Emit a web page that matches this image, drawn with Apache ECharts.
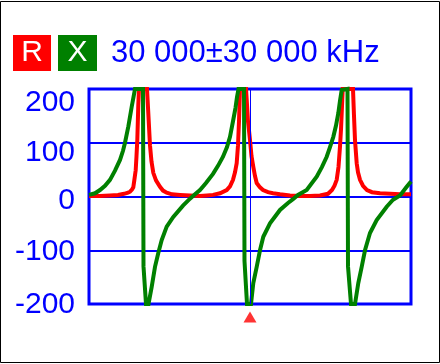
<!DOCTYPE html>
<html>
<head>
<meta charset="utf-8">
<script src="https://cdn.jsdelivr.net/npm/echarts@6/dist/echarts.min.js"></script>
<style>
html,body{margin:0;padding:0;background:#fff;}
#c{width:440px;height:364px;}
</style>
</head>
<body>
<div id="c"></div>
<script>
// ---- data (frequency in kHz) ----
var titleText = '30 000±30 000 kHz';
var seriesNames = ['R', 'X'];
var yTicks = [-200, -100, 0, 100, 200];
var markerFreq = [30000];

var rFreq = [0,2050,3913,5404,6522,7267,7640,8012,8255,8441,8702,8851,9000,9186,9317,10807,11050,11366,11646,11981,12484,13230,13789,14478,15466,16957,18820,20683,21988,23106,24410,25659,26273,26832,27205,27521,27764,27950,28137,29255,29385,29627,30000,30280,30615,30932,31248,31863,32422,33354,34286,35590,37454,39317,41180,43043,44534,45280,45745,46155,46491,46770,46957,47087,47273,49192,49378,49565,49882,50124,50497,51056,51801,52733,54223,56087,57950,60000];
var rVals = [1,1,2,3,5,7,9,13,17,30,49,75,105,170,200,200,155,95,65,44,30,18,11,7,4,3,2,1,2,3,6,12,19,31,45,62,95,140,200,200,180,140,105,75,55,38,25,17,12,8,6,4,2,1,1,2,5,12,20,31,55,93,125,155,200,200,150,105,62,45,31,20,12,8,6,5,4,4];

var xFreq = [0,1118,2050,2981,3913,4845,5776,6335,6708,7323,7957,8292,8571,10062,10155,10621,11087,11683,12298,12913,13546,14478,15708,17515,18820,19751,20683,21801,23106,24037,24969,25714,26273,26832,27298,27578,27857,28882,28975,29441,30186,30615,31248,31863,32478,33727,35590,37081,38012,38944,40565,42428,43416,44292,44907,45522,46025,46454,46770,47087,47236,48168,48261,48820,49565,50180,50813,51428,52360,53608,55472,56646,57950,59199,60000];
var xVals = [3,6,12,20,31,48,68,85,100,130,167,185,200,200,-130,-200,-200,-168,-131,-105,-81,-56,-38,-17,-4,4,12,25,42,57,74,92,111,140,165,185,200,200,-120,-200,-200,-161,-131,-100,-75,-50,-25,-12,-5,3,12,37,55,74,92,111,132,155,178,198,200,200,-130,-200,-200,-161,-131,-100,-68,-44,-19,-6,2,18,28];

function zip(a, b) { return a.map(function (v, i) { return [v, b[i]]; }); }

var BLUE = '#0000ff', RED = '#ff0000', GREEN = '#008000';
var FONT = 'Liberation Sans';
var labelKey = { '200': 'a', '100': 'b', '0': 'c', '-100': 'd', '-200': 'e' };

function lab(pad) { return { padding: [pad, 0, 0, 0], fontSize: 30, color: BLUE, fontFamily: FONT, fontWeight: 'normal' }; }

var chart = echarts.init(document.getElementById('c'), null, { renderer: 'canvas' });
chart.setOption({
  animation: false,
  backgroundColor: '#ffffff',
  title: {
    left: 8, top: 30,
    text: '{r|' + seriesNames[0] + '}{g1|}{x|' + seriesNames[1] + '}{g2|}{t|' + titleText + '}',
    textStyle: {
      fontWeight: 'normal',
      rich: {
        r: { backgroundColor: RED, color: '#fff', width: 38, height: 36, lineHeight: 36, align: 'center', fontSize: 30, fontFamily: FONT, fontWeight: 'normal' },
        g1: { width: 7, height: 36 },
        x: { backgroundColor: GREEN, color: '#fff', width: 39, height: 36, lineHeight: 36, align: 'center', fontSize: 30, fontFamily: FONT, fontWeight: 'normal' },
        g2: { width: 14, height: 36 },
        t: { color: BLUE, fontSize: 31, lineHeight: 36, fontFamily: FONT, fontWeight: 'normal' }
      }
    }
  },
  grid: { left: 89, right: 29, top: 89, bottom: 60, show: true, borderColor: BLUE, borderWidth: 3, backgroundColor: 'transparent' },
  xAxis: {
    type: 'value', min: 0, max: 60000,
    axisLine: { show: false }, axisTick: { show: false }, axisLabel: { show: false }, splitLine: { show: false }
  },
  yAxis: {
    type: 'value', min: yTicks[0], max: yTicks[yTicks.length - 1], interval: 100,
    axisLine: { show: false }, axisTick: { show: false },
    splitLine: { show: true, lineStyle: { color: BLUE, width: 2 } },
    axisLabel: {
      margin: 14, color: BLUE, fontSize: 30, fontFamily: FONT,
      formatter: function (v) { return '{' + labelKey[String(v)] + '|' + v + '}'; },
      rich: { a: lab(28), b: lab(20), c: lab(9), d: lab(2), e: lab(2) }
    }
  },
  graphic: [{
    type: 'rect', silent: true,
    shape: { x: 0.5, y: 1.5, width: 439, height: 361 },
    style: { fill: 'none', stroke: '#000', lineWidth: 1 }
  }],
  series: [
    {
      type: 'scatter', z: 1, clip: false, silent: true,
      data: markerFreq.map(function (f) { return [f, yTicks[0]]; }),
      symbol: 'triangle', symbolSize: [13, 11], symbolOffset: [0, 13],
      itemStyle: { color: RED },
      markLine: {
        silent: true, symbol: 'none', label: { show: false },
        lineStyle: { color: BLUE, width: 1, type: 'solid' },
        data: markerFreq.map(function (f) { return { xAxis: f }; })
      }
    },
    {
      name: seriesNames[0], type: 'line', z: 3, clip: false, showSymbol: false, symbol: 'none',
      data: zip(rFreq, rVals),
      lineStyle: { color: RED, width: 4, join: 'miter' }, itemStyle: { color: RED }
    },
    {
      name: seriesNames[1], type: 'line', z: 4, clip: false, showSymbol: false, symbol: 'none',
      data: zip(xFreq, xVals),
      lineStyle: { color: GREEN, width: 4, join: 'miter' }, itemStyle: { color: GREEN }
    }
  ]
});
</script>
</body>
</html>
